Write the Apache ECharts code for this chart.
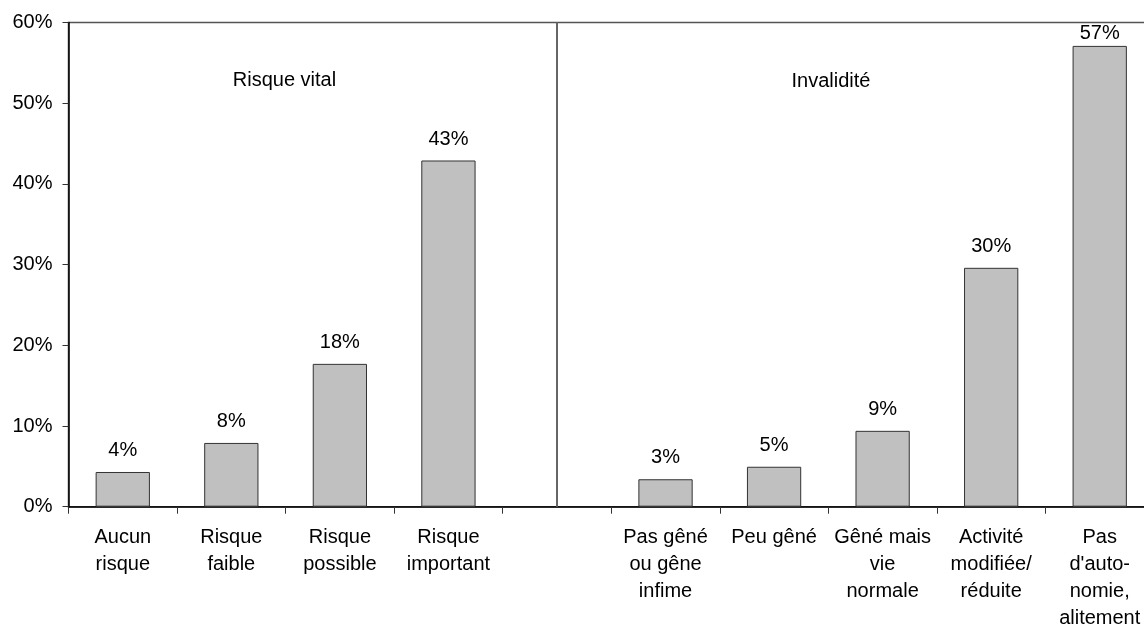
<!DOCTYPE html>
<html>
<head>
<meta charset="utf-8">
<script src="https://cdn.jsdelivr.net/npm/echarts@6/dist/echarts.min.js"></script>
<style>
html,body{margin:0;padding:0;background:#fff;}
#chart{width:1144px;height:626px;}
</style>
</head>
<body>
<div id="chart"></div>
<script>
const categories = [
  "Aucun\nrisque", "Risque\nfaible", "Risque\npossible", "Risque\nimportant", "",
  "Pas gêné\nou gêne\ninfime", "Peu gêné", "Gêné mais\nvie\nnormale",
  "Activité\nmodifiée/\nréduite", "Pas\nd'auto-\nnomie,\nalitement"
];
const values = [4.3, 7.9, 17.7, 42.9, null, 3.4, 4.95, 9.4, 29.6, 57.1];
const groupTitles = ["Risque vital", "Invalidité"];
const yTicks = { min: 0, max: 60, interval: 10 };

const FONT = "'Liberation Sans', Arial, sans-serif";
const FS = 20;
// labels that would rise above the plot top are kept just inside it
const barData = values.map(v => (v != null && v > yTicks.max - 5)
  ? { value: v, label: { distance: 2 } }
  : v);

const chart = echarts.init(document.getElementById('chart'));
chart.setOption({
  animation: false,
  backgroundColor: '#fff',
  textStyle: { fontFamily: FONT },
  grid: {
    left: 68.5, top: 22.5, right: -10, bottom: 119.3,
    containLabel: false, outerBoundsMode: 'none',
    show: true, borderColor: '#555', borderWidth: 1.5, backgroundColor: 'transparent'
  },
  xAxis: {
    type: 'category',
    data: categories,
    boundaryGap: true,
    axisLine: { lineStyle: { color: '#000', width: 1.5 } },
    axisTick: { show: true, length: 7, inside: false, lineStyle: { color: '#333' }, alignWithLabel: false },
    axisLabel: {
      interval: 0, color: '#000', fontSize: FS, lineHeight: 27, margin: 17,
      fontFamily: FONT, verticalAlign: 'top', hideOverlap: false
    },
    splitLine: { show: false }
  },
  yAxis: {
    type: 'value',
    min: yTicks.min, max: yTicks.max, interval: yTicks.interval,
    axisLine: { show: true, lineStyle: { color: '#000', width: 1.5 } },
    axisTick: { show: true, length: 6, lineStyle: { color: '#333' } },
    axisLabel: { formatter: '{value}%', color: '#000', fontSize: FS, margin: 16, fontFamily: FONT },
    splitLine: { show: false }
  },
  series: [{
    type: 'bar',
    data: barData,
    barWidth: '50%',
    itemStyle: { color: '#c0c0c0', borderColor: '#333', borderWidth: 1 },
    label: {
      show: true, position: 'top', distance: 11.5, color: '#000', fontSize: FS, fontFamily: FONT,
      formatter: p => (p.value == null ? '' : Math.round(p.value) + '%')
    },
    markLine: {
      silent: true, symbol: 'none', label: { show: false },
      lineStyle: { color: '#666', width: 2, type: 'solid' },
      data: [{ xAxis: 4 }]
    }
  }],
  graphic: [
    { type: 'text', x: 284.5, y: 80, style: { text: groupTitles[0], fontSize: FS, fontFamily: FONT, fill: '#000', textAlign: 'center', textVerticalAlign: 'middle' } },
    { type: 'text', x: 831, y: 81, style: { text: groupTitles[1], fontSize: FS, fontFamily: FONT, fill: '#000', textAlign: 'center', textVerticalAlign: 'middle' } }
  ]
});
</script>
</body>
</html>
